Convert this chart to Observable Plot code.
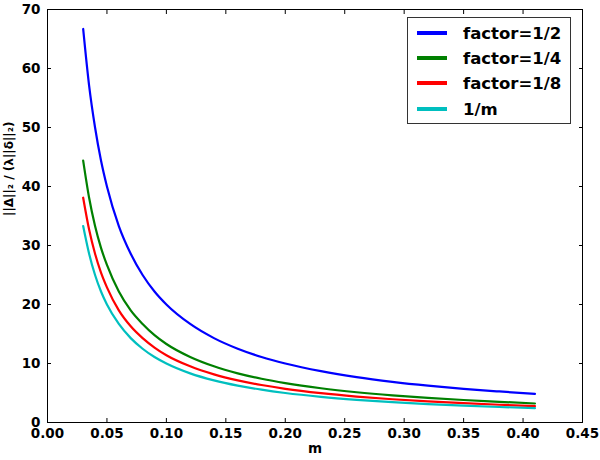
<!DOCTYPE html>
<html>
<head>
<meta charset="utf-8">
<script src="https://cdn.jsdelivr.net/npm/d3@7"></script>
<script src="https://cdn.jsdelivr.net/npm/@observablehq/plot@0.6"></script>
<style>
  html, body { margin: 0; padding: 0; background: #fff; }
  #wrap { position: relative; width: 600px; height: 460px; font-family: "DejaVu Sans", sans-serif; }
  #legend { position: absolute; left: 407px; top: 17px; width: 164px; height: 107px; border: 1px solid #333; background: #fff; box-sizing: border-box; }
  .row { position: absolute; left: 0; height: 20px; display: flex; align-items: center; }
  .sw { width: 30px; height: 4px; margin-left: 9px; margin-right: 16px; }
  .lab { font-weight: bold; font-size: 16.5px; color: #000; white-space: nowrap; }
</style>
</head>
<body>
<div id="wrap"><div id="chart"></div><div id="legend"></div></div>
<script>
const mValues = [0.03, 0.035, 0.04, 0.045, 0.05, 0.06, 0.07, 0.08, 0.09, 0.10, 0.12, 0.14, 0.16, 0.18, 0.20, 0.23, 0.26, 0.29, 0.32, 0.35, 0.38, 0.41];
const half =   [66.7, 57.1, 50.0, 44.4, 40.0, 33.3, 28.6, 25.0, 22.2, 20.0, 16.7, 14.3, 12.5, 11.1, 10.0, 8.70, 7.69, 6.90, 6.25, 5.71, 5.26, 4.85];
const quarter = [44.4, 38.1, 33.3, 29.6, 26.7, 22.2, 19.0, 16.7, 14.8, 13.3, 11.1, 9.52, 8.33, 7.41, 6.67, 5.80, 5.13, 4.60, 4.17, 3.81, 3.51, 3.22];
const eighth = [38.1, 32.7, 28.6, 25.4, 22.9, 19.0, 16.3, 14.3, 12.7, 11.4, 9.52, 8.16, 7.14, 6.35, 5.71, 4.97, 4.40, 3.94, 3.57, 3.27, 3.01, 2.78];
const inv =    [33.3, 28.6, 25.0, 22.2, 20.0, 16.7, 14.3, 12.5, 11.1, 10.0, 8.33, 7.14, 6.25, 5.56, 5.00, 4.35, 3.85, 3.45, 3.13, 2.86, 2.63, 2.44];
const seriesNames = ["factor=1/2", "factor=1/4", "factor=1/8", "1/m"];
const seriesColors = ["#0000ff", "#008000", "#ff0000", "#00bfbf"];
const xTicks = [0, 0.05, 0.10, 0.15, 0.20, 0.25, 0.30, 0.35, 0.40, 0.45];
const yTicks = [0, 10, 20, 30, 40, 50, 60, 70];

const allSeries = [half, quarter, eighth, inv];
const rows = [];
allSeries.forEach((vals, i) => vals.forEach((v, j) => rows.push({m: mValues[j], y: v, s: seriesNames[i]})));

const chart = Plot.plot({
  width: 600, height: 460,
  marginLeft: 47, marginRight: 18, marginTop: 9, marginBottom: 38,
  style: {fontFamily: "DejaVu Sans", fontWeight: "bold", fontSize: "13.5px", color: "#000", background: "#fff"},
  x: {domain: [0, 0.45], label: null},
  y: {domain: [0, 70], label: null},
  color: {domain: seriesNames, range: seriesColors},
  marks: [
    Plot.line(rows, {x: "m", y: "y", z: "s", stroke: "s", strokeWidth: 2.2, curve: "monotone-x"}),
    Plot.frame({stroke: "#000", strokeWidth: 1}),
    Plot.axisX(xTicks, {anchor: "bottom", tickSize: -4, tickPadding: 10, tickFormat: d3.format(".2f"), fontSize: 13.5, fontWeight: "bold", label: null}),
    Plot.axisX(xTicks, {anchor: "top", tickSize: -4, tickFormat: () => "", label: null}),
    Plot.axisY(yTicks, {anchor: "left", tickSize: -4, tickPadding: 11, tickFormat: d3.format("d"), fontSize: 13.5, fontWeight: "bold", label: null}),
    Plot.axisY(yTicks, {anchor: "right", tickSize: -4, tickFormat: () => "", label: null}),
    Plot.text(["m"], {frameAnchor: "bottom", dy: 30, fontSize: 13.5, fontWeight: "bold"}),
    Plot.text(["||Δ||₂ / (λ||δ||₂)"], {frameAnchor: "left", dx: -38, rotate: -90, fontSize: 12, fontWeight: "bold"})
  ]
});
document.getElementById("chart").appendChild(chart);

const leg = document.getElementById("legend");
const rowTops = [5, 30, 55, 81];
seriesNames.forEach((n, i) => {
  const r = document.createElement("div");
  r.className = "row";
  r.style.top = rowTops[i] + "px";
  r.innerHTML = `<div class="sw" style="background:${seriesColors[i]}"></div><div class="lab">${n}</div>`;
  leg.appendChild(r);
});
</script>
</body>
</html>
